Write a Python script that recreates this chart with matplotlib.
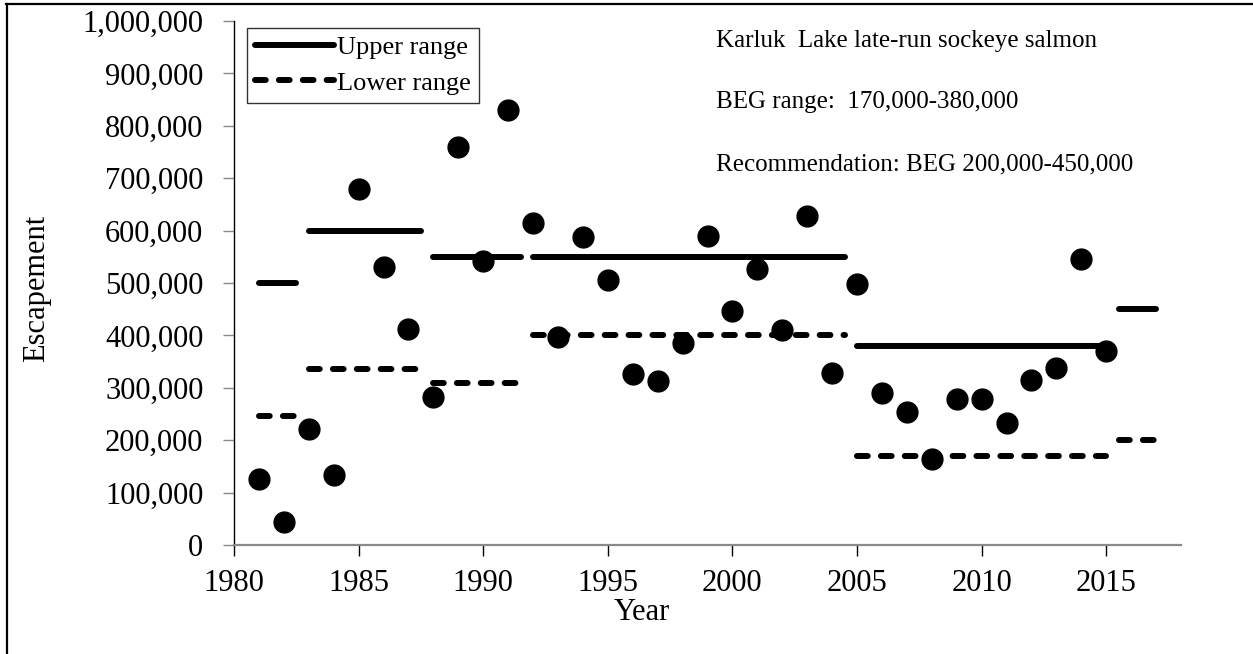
import matplotlib
matplotlib.use("Agg")
import matplotlib.pyplot as plt
from matplotlib.lines import Line2D
from matplotlib.ticker import FuncFormatter

plt.rcParams['font.family'] = ['Liberation Serif', 'DejaVu Serif']

# ---- data ----
years = list(range(1981, 2016))
escapement = [126000, 43000, 222000, 133000, 680000, 530000, 413000, 283000,
              759000, 542000, 831000, 615000, 396000, 588000, 506000, 326000,
              313000, 385000, 590000, 447000, 526000, 410000, 628000, 328000,
              499000, 290000, 253000, 165000, 278000, 278000, 232000, 315000,
              337000, 545000, 370000]

seg_start = [1981, 1983, 1988, 1992, 2005, 2015.5]
seg_end = [1982.5, 1987.5, 1991.5, 2004.5, 2015, 2017]
upper_range = [500000, 600000, 550000, 550000, 380000, 450000]
lower_range = [247000, 335000, 310000, 400000, 170000, 200000]

x_ticks = [1980, 1985, 1990, 1995, 2000, 2005, 2010, 2015]
y_ticks = list(range(0, 1000001, 100000))

W, H = 1253, 654
fig = plt.figure(figsize=(W / 100, H / 100), dpi=100)
ax = fig.add_axes([234 / W, 1 - 545 / H, (1181 - 234) / W, (545 - 21) / H])

lw = 4.3
dash = (0, (1.8, 2.2))

for i, (s, e, u, l) in enumerate(zip(seg_start, seg_end, upper_range, lower_range)):
    ax.plot([s, e], [u, u], color='black', lw=lw, solid_capstyle='round')
    ax.plot([s, e], [l, l], color='black', lw=lw, linestyle=dash,
            dash_capstyle='round')

ax.plot(years, escapement, linestyle='none', marker='o', markersize=15,
        color='black', zorder=5)

ax.set_xlim(1980, 2018)
ax.set_ylim(0, 1000000)
ax.set_xticks(x_ticks)
ax.set_yticks(y_ticks)
ax.yaxis.set_major_formatter(FuncFormatter(lambda v, p: f"{int(v):,}"))

for side in ['top', 'right']:
    ax.spines[side].set_visible(False)
ax.spines['left'].set_color('black')
ax.spines['left'].set_linewidth(1.0)
ax.spines['bottom'].set_color('#8a8a8a')
ax.spines['bottom'].set_linewidth(1.6)

ax.tick_params(axis='y', direction='out', length=8, width=1, color='#8a8a8a',
               labelsize=22, pad=14)
ax.tick_params(axis='x', direction='out', length=8, width=1, color='black',
               labelsize=22, pad=9)

ax.set_ylabel('Escapement', fontsize=22)
ax.yaxis.set_label_coords((51 - 234) / (1181 - 234), 0.49)
fig.text(642 / W, 1 - 613 / H, 'Year', fontsize=22, ha='center', va='center')

handles = [Line2D([0], [0], color='black', lw=lw, solid_capstyle='round'),
           Line2D([0], [0], color='black', lw=lw, linestyle=dash,
                  dash_capstyle='round')]
leg = fig.legend(handles, ['Upper range', 'Lower range'], loc='upper left',
                 bbox_to_anchor=(247 / W, 1 - 28 / H), fontsize=19,
                 frameon=True, fancybox=False, edgecolor='black',
                 handlelength=3.0, handletextpad=0.1, borderpad=0.3,
                 labelspacing=0.45, borderaxespad=0)
leg.get_frame().set_linewidth(1.0)

fig.text(716 / W, 1 - 41 / H, 'Karluk  Lake late-run sockeye salmon',
         fontsize=18, va='center', ha='left')
fig.text(716 / W, 1 - 102 / H, 'BEG range:  170,000-380,000',
         fontsize=18, va='center', ha='left')
fig.text(716 / W, 1 - 164 / H, 'Recommendation: BEG 200,000-450,000',
         fontsize=18, va='center', ha='left')

# outer frame (top and left edges)
fig.add_artist(Line2D([6 / W, 1], [1 - 4 / H, 1 - 4 / H], color='black',
                      lw=1.6, transform=fig.transFigure))
fig.add_artist(Line2D([7 / W, 7 / W], [0, 1 - 4 / H], color='black',
                      lw=1.6, transform=fig.transFigure))

fig.savefig('out.png', dpi=100)
